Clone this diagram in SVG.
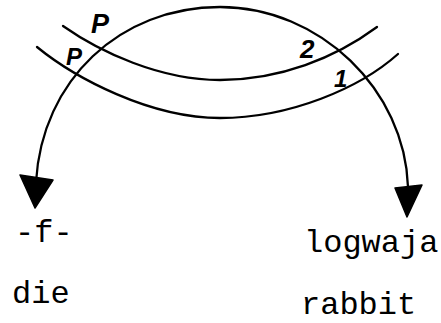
<svg xmlns="http://www.w3.org/2000/svg" width="441" height="323" viewBox="0 0 441 323">
<style>
.ln{fill:none;stroke:#000;stroke-width:2.3;stroke-linecap:round}
.ah{fill:#000;stroke:#000;stroke-width:1.5;stroke-linejoin:round}
.hw{font-family:"Liberation Sans",Arial,sans-serif;font-weight:bold;font-style:italic;fill:#000}
.tw{font-family:"Liberation Mono","Courier New",monospace;font-size:32px;fill:#000}
</style>
<rect width="441" height="323" fill="#fff"/>
<g id="connectors">
<path id="arch" class="ln" d="M36,182 C42,80 120,7 220,7 C320,7 405,90 408,187"/>
<polygon class="ah" points="20,175 53,180 35,208"/>
<polygon class="ah" points="395,188 422,185 407,217"/>
<path id="band-upper" class="ln" d="M63,26 C100,52 160,80 220,80 C280,80 335,58 377,27"/>
<path id="band-lower" class="ln" d="M37,47 C75,78 150,118 220,118 C290,118 360,88 398,54"/>
</g>
<g id="crossing-labels">
<text class="hw" x="91" y="33" font-size="27">P</text>
<text class="hw" x="66" y="65" font-size="24">P</text>
<text class="hw" x="300" y="58" font-size="26">2</text>
<text class="hw" x="334" y="87" font-size="24">1</text>
</g>
<g id="node-left">
<text class="tw" x="15" y="242">-f-</text>
<text class="tw" x="12" y="303">die</text>
</g>
<g id="node-right">
<text class="tw" x="304" y="252">logwaja</text>
<text class="tw" x="301" y="314">rabbit</text>
</g>
</svg>
